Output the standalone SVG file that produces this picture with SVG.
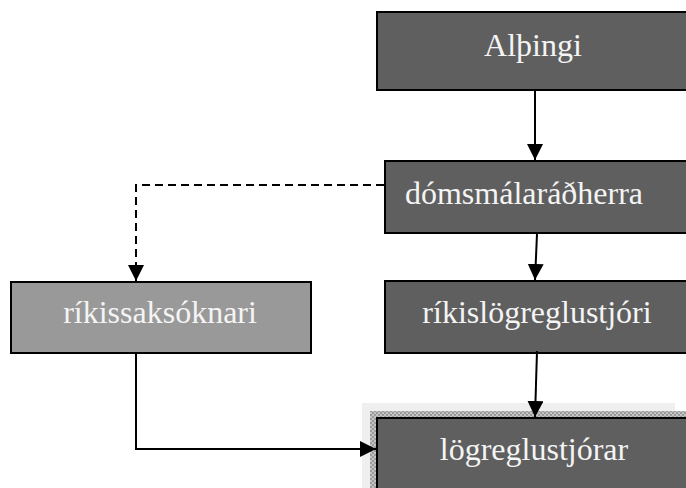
<svg xmlns="http://www.w3.org/2000/svg" width="686" height="488" viewBox="0 0 686 488">
<defs>
<style>
.box{fill:#5f5f5f;stroke:#000;stroke-width:2}
.lbox{fill:#999;stroke:#000;stroke-width:2}
.t{font-family:"Liberation Serif",serif;font-size:32px;fill:#f4f4f4;text-anchor:middle}
.c{fill:none;stroke:#000;stroke-width:2}
</style>
<marker id="a" viewBox="0 0 12 12" refX="12" refY="6" markerWidth="16" markerHeight="16" orient="auto" markerUnits="userSpaceOnUse">
<path d="M0,0 L12,6 L0,12 Z" fill="#000"/>
</marker>
<pattern id="hatch" width="4" height="4" patternUnits="userSpaceOnUse">
<rect width="4" height="4" fill="#c4c4c4"/>
<rect width="2" height="2" fill="#9a9a9a"/>
<rect x="2" y="2" width="2" height="2" fill="#9a9a9a"/>
</pattern>
</defs>
<rect width="686" height="488" fill="#fff"/>
<g id="althingi">
<rect class="box" x="377" y="12" width="320" height="78"/>
<text class="t" x="533" y="56">Alþingi</text>
</g>
<g id="domsmalaradherra">
<rect class="box" x="385" y="161" width="312" height="72"/>
<text class="t" x="524" y="204">dómsmálaráðherra</text>
</g>
<g id="rikislogreglustjori">
<rect class="box" x="385" y="281" width="312" height="72"/>
<text class="t" x="537" y="323">ríkislögreglustjóri</text>
</g>
<g id="rikissaksoknari">
<rect class="lbox" x="11" y="282" width="300" height="71"/>
<text class="t" x="160" y="323">ríkissaksóknari</text>
</g>
<g id="logreglustjorar">
<rect x="362" y="403" width="313" height="90" fill="#efefef"/>
<rect x="370" y="411" width="316" height="80" fill="url(#hatch)"/>
<rect class="box" x="377" y="418" width="320" height="80"/>
<text class="t" x="534" y="460">lögreglustjórar</text>
</g>
<g id="connectors">
<path class="c" d="M535,90 V160" marker-end="url(#a)"/>
<path class="c" d="M537,234 L535,280" marker-end="url(#a)"/>
<path class="c" d="M537,351 L535,417" marker-end="url(#a)"/>
<path class="c" d="M384,185 H136 V281" stroke-dasharray="8,5" marker-end="url(#a)"/>
<path class="c" d="M136,354 V449 H376" marker-end="url(#a)"/>
</g>
</svg>
